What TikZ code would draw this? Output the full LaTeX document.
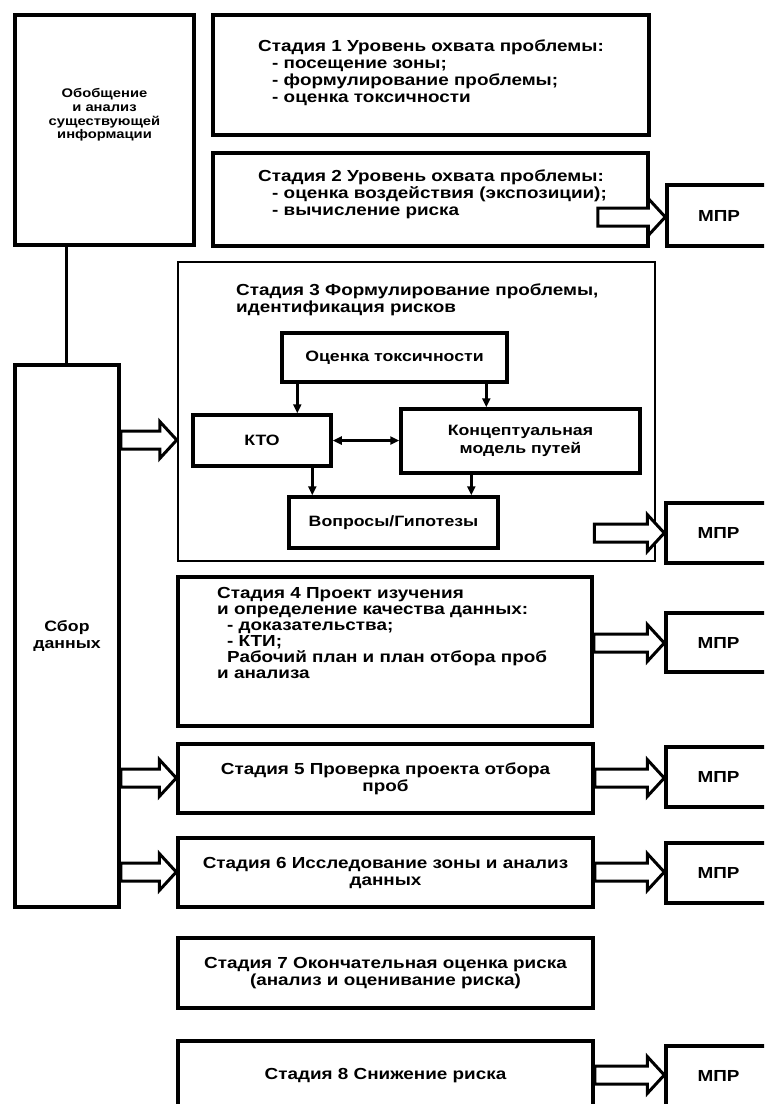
\documentclass[tikz,border=0pt]{standalone}
\usepackage{fontspec}
\setmainfont{Liberation Sans}[FakeStretch=1.18]
\usetikzlibrary{arrows.meta,calc}
\tikzset{
  bx/.style={draw, line width=3.5pt, inner sep=0pt, align=center, font=\bfseries\fontsize{16}{17}\selectfont},
  txt/.style={inner sep=0pt, align=left, font=\bfseries\fontsize{16}{17}\selectfont},
  harr/.style={draw, fill=white, line width=3pt, line join=miter},
  sarr/.style={line width=3pt, -{Triangle[length=9pt,width=8pt]}},
  darr/.style={line width=3pt, {Triangle[length=9pt,width=8pt]}-{Triangle[length=9pt,width=8pt]}},
}
\newcommand\harrow[3]{\draw[harr] let \p1=(#1), \p2=(#2), \p3=(0,#3) in
  (\x1,\y3+9pt) -- (\x2-17pt,\y3+9pt) -- (\x2-17pt,\y3+18.5pt) -- (\x2,\y3)
  -- (\x2-17pt,\y3-18.5pt) -- (\x2-17pt,\y3-9pt) -- (\x1,\y3-9pt) -- cycle;}
\begin{document}
\begin{tikzpicture}[x=1pt,y=-1pt]
\fill[white] (0,0) rectangle (764,1104);
\clip (0,0) rectangle (764,1104);
% left column
\node[bx, minimum width=179pt, minimum height=230pt] (info) at (104.5,130) {};
\node[txt, align=center, font=\bfseries\fontsize{12.5}{13.8}\selectfont] (infotxt) at (104.5,115) {Обобщение\\и анализ\\существующей\\информации};
\node[bx, minimum width=104pt, minimum height=542pt, font=\bfseries\fontsize{15}{17}\selectfont] (sbor) at (67,636) {Сбор\\данных};
\coordinate (v1) at ($(info.south west)+(53,0)$);
\draw[line width=3.5pt] (v1) -- (v1 |- sbor.north);
% stage 1
\node[bx, minimum width=436pt, minimum height=120pt] (s1) at (431,75) {};
\node[txt, anchor=west] (s1t) at (258,73) {Стадия 1 Уровень охвата проблемы:\\\hspace*{14pt}- посещение зоны;\\\hspace*{14pt}- формулирование проблемы;\\\hspace*{14pt}- оценка токсичности};
% stage 2
\node[bx, minimum width=435pt, minimum height=93pt] (s2) at (430.5,199.5) {};
\node[txt, anchor=west] (s2t) at (258,194.5) {Стадия 2 Уровень охвата проблемы:\\\hspace*{14pt}- оценка воздействия (экспозиции);\\\hspace*{14pt}- вычисление риска};
\node[bx, minimum width=104pt, minimum height=61pt] (m2) at (719,215.5) {МПР};
\harrow{$(s2.east)+(-52,0)$}{m2.west}{217}
% stage 3
\node[bx, line width=2.5pt, minimum width=477pt, minimum height=299pt] (s3) at (416.5,411.5) {};
\node[txt, anchor=west] (s3t) at (236,300) {Стадия 3 Формулирование проблемы,\\идентификация рисков};
\node[bx, font=\bfseries\fontsize{15}{17}\selectfont, minimum width=225pt, minimum height=49pt] (tox) at (394.5,357.5) {Оценка токсичности};
\node[bx, font=\bfseries\fontsize{15}{17}\selectfont, minimum width=138pt, minimum height=51pt] (kto) at (262,440.5) {КТО};
\node[bx, font=\bfseries\fontsize{15}{18}\selectfont, minimum width=239pt, minimum height=64pt] (konc) at (520.5,441) {Концептуальная\\модель путей};
\node[bx, font=\bfseries\fontsize{15}{17}\selectfont, minimum width=209pt, minimum height=51pt] (vopr) at (393.5,522.5) {Вопросы/Гипотезы};
\coordinate (a1) at ($(tox.south west)+(17,0)$);
\coordinate (a2) at ($(tox.south west)+(206,0)$);
\coordinate (a3) at ($(kto.south west)+(121,0)$);
\coordinate (a4) at ($(konc.south west)+(72,0)$);
\draw[sarr] (a1) -- (a1 |- kto.north);
\draw[sarr] (a2) -- (a2 |- konc.north);
\draw[sarr] (a3) -- (a3 |- vopr.north);
\draw[sarr] (a4) -- (a4 |- vopr.north);
\draw[darr] (kto.east) -- (kto.east -| konc.west);
\node[bx, minimum width=105pt, minimum height=60pt] (m3) at (718.5,533) {МПР};
\harrow{sbor.east}{s3.west}{440}
\harrow{$(s3.east)+(-62,0)$}{m3.west}{533}
% stage 4
\node[bx, minimum width=414pt, minimum height=149pt] (s4) at (385,651.5) {};
\node[txt, anchor=west, font=\bfseries\fontsize{16}{16}\selectfont] (s4t) at (217,633) {Стадия 4 Проект изучения\\и определение качества данных:\\\hspace*{10pt}- доказательства;\\\hspace*{10pt}- КТИ;\\\hspace*{10pt}Рабочий план и план отбора проб\\и анализа};
\node[bx, minimum width=105pt, minimum height=59pt] (m4) at (718.5,642.5) {МПР};
\harrow{s4.east}{m4.west}{643}
% stage 5
\node[bx, minimum width=415pt, minimum height=69pt] (s5) at (385.5,778.5) {Стадия 5 Проверка проекта отбора\\проб};
\node[bx, minimum width=105pt, minimum height=60pt] (m5) at (718.5,777) {МПР};
\harrow{sbor.east}{s5.west}{778}
\harrow{s5.east}{m5.west}{778}
% stage 6
\node[bx, minimum width=415pt, minimum height=69pt] (s6) at (385.5,872.5) {Стадия 6 Исследование зоны и анализ\\данных};
\node[bx, minimum width=105pt, minimum height=60pt] (m6) at (718.5,873) {МПР};
\harrow{sbor.east}{s6.west}{872}
\harrow{s6.east}{m6.west}{872}
% stage 7
\node[bx, minimum width=415pt, minimum height=70pt] (s7) at (385.5,973) {Стадия 7 Окончательная оценка риска\\(анализ и оценивание риска)};
% stage 8
\node[bx, minimum width=415pt, minimum height=70pt] (s8) at (385.5,1076) {Стадия 8 Снижение риска};
\node[bx, minimum width=105pt, minimum height=60pt] (m8) at (718.5,1076) {МПР};
\harrow{s8.east}{m8.west}{1075}
\end{tikzpicture}
\end{document}
